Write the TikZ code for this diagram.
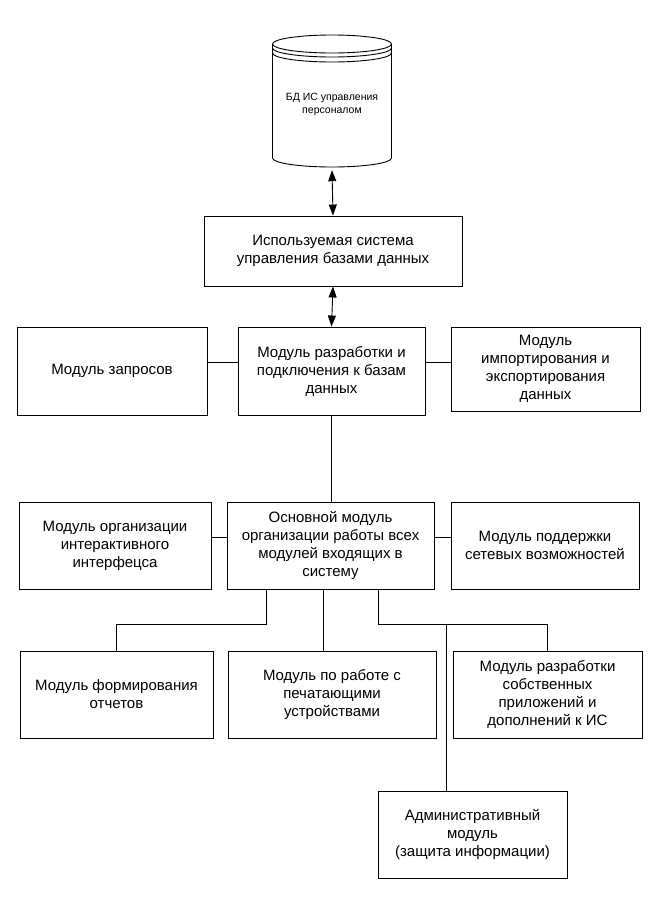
\documentclass[tikz,border=0pt]{standalone}
\usepackage{fontspec}
\setmainfont{Liberation Sans}
\usetikzlibrary{arrows.meta,positioning,calc}

\begin{document}
\begin{tikzpicture}[x=1pt,y=-1pt,
    box/.style={draw,line width=0.9pt,inner sep=2pt,align=center,minimum height=87pt,
      font=\fontsize{15}{18}\selectfont},
    link/.style={line width=0.9pt},
    arr/.style={{Triangle[length=11pt,width=8pt]}-{Triangle[length=11pt,width=8pt]},line width=0.9pt}
]
\useasboundingbox (0,0) rectangle (660,897);
% database
\node[minimum width=119pt,minimum height=132pt,inner sep=0pt,align=center,
      font=\fontsize{10.5}{13}\selectfont] (db) at (332,104) {БД ИС управления\\персоналом};
\draw[link] (272.5,44) -- (272.5,158) arc[start angle=180,end angle=360,x radius=59.5,y radius=-9]
  -- (391.5,44);
\draw[link] (332,44) ellipse[x radius=59.5,y radius=9];
\draw[link] (272.5,48) arc[start angle=180,end angle=360,x radius=59.5,y radius=-9];
\draw[link] (272.5,53) arc[start angle=180,end angle=360,x radius=59.5,y radius=-9];
\node[box,minimum width=258pt,minimum height=70pt] (dbms) at (333,251) {Используемая система\\управления базами данных};
\draw[arr] (db.south) -- (dbms.north);

% row 2
\node[box,minimum width=190pt,minimum height=88pt] (qry) at (112,371) {Модуль запросов};
\node[box,minimum width=187pt,minimum height=88pt] (dev) at (331.5,371) {Модуль разработки и\\подключения к базам\\данных};
\node[box,minimum width=189pt,minimum height=84pt] (imp) at (545.5,369) {Модуль\\импортирования и\\экспортирования\\данных};
\draw[arr] (dbms.south) -- (dev.north);
\draw[link] ([yshift=9pt]qry.east) -- ([yshift=9pt]dev.west);
\draw[link] ([yshift=7pt]imp.west) -- ([yshift=7pt]imp.west -| dev.east);

% row 3
\node[box,minimum width=192pt] (ui) at (115,545.5) {Модуль организации\\интерактивного\\интерфецса};
\node[box,minimum width=207pt] (core) at (330.5,545.5) {Основной модуль\\организации работы всех\\модулей входящих в\\систему};
\node[box,minimum width=188pt] (net) at (545,545.5) {Модуль поддержки\\сетевых возможностей};
\draw[link] (dev.south) -- (dev.south |- core.north);
\draw[link] ([yshift=8.5pt]ui.east) -- ([yshift=8.5pt]core.west);
\draw[link] ([yshift=8.5pt]core.east) -- ([yshift=8.5pt]net.west);

% row 4
\node[box,minimum width=193pt] (rep) at (116.5,694.5) {Модуль формирования\\отчетов};
\node[box,minimum width=208pt] (prn) at (332,694.5) {Модуль по работе с\\печатающими\\устройствами};
\node[box,minimum width=189pt] (app) at (547.5,694.5) {Модуль разработки\\собственных\\приложений и\\дополнений к ИС};
\node[box,minimum width=189pt] (adm) at (472.5,834.5) {Административный\\модуль\\(защита информации)};
\draw[link] ([xshift=-64.5pt]core.south) -- ++(0,35) -| (rep.north);
\draw[link] ([xshift=-7.5pt]core.south) -- ([xshift=-7.5pt]core.south |- prn.north);
\draw[link] ([xshift=47.5pt]core.south) -- ++(0,35) coordinate (split) -| (app.north);
\coordinate (drop) at (446,624);
\draw[link] (drop) -- (drop |- adm.north);
\end{tikzpicture}
\end{document}
